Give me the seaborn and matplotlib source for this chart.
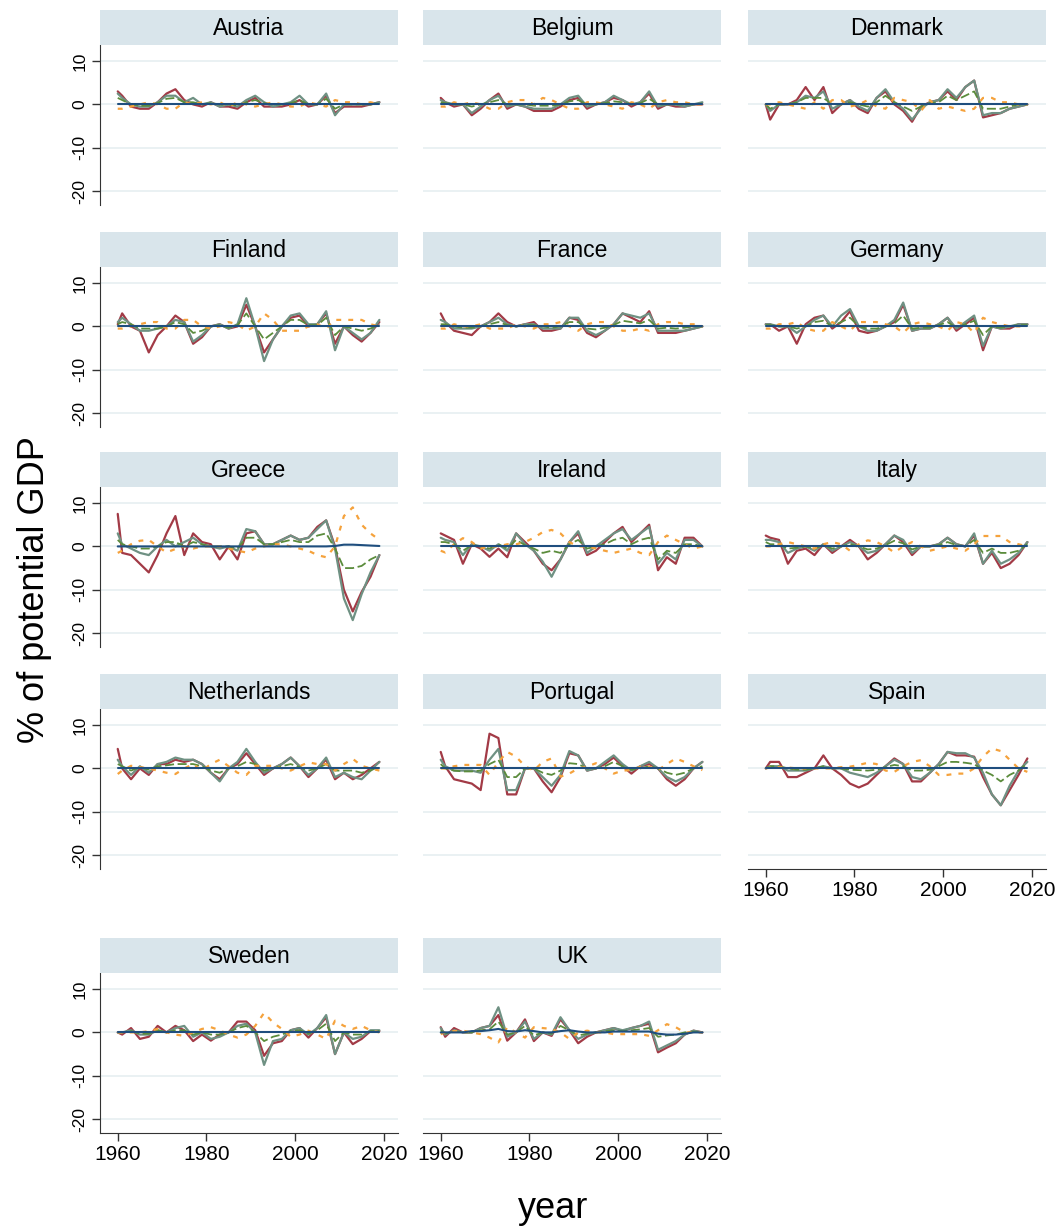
import matplotlib
matplotlib.use("Agg")
import matplotlib.pyplot as plt
import pandas as pd
import seaborn as sns

# 1960 plus every odd year up to 2019
years = [1960] + list(range(1961, 2020, 2))

navy_zero = [0, 0, 0, 0, 0, 0, 0, 0, 0, 0, 0, 0, 0, 0, 0, 0, 0, 0, 0, 0, 0, 0, 0, 0, 0, 0, 0, 0, 0, 0, 0]

austria_red = [3, 2, -0.5, -1, -1, 0.5, 2.5, 3.5, 1, 0, -0.5, 0.5, -0.5, -0.5, -1, 0.5, 1.5, -0.5, -0.5, -0.5, 0, 1, -0.5, 0, 2, -2, -0.5, -0.5, -0.5, 0, 0.5]
austria_gray = [2.5, 1.5, 0, -0.5, -0.5, 0.5, 2, 2, 0.5, 1.5, 0, 0.5, -0.5, 0, -0.5, 1, 2, 0.5, -0.5, 0, 0.5, 2, 0, 0, 2.5, -2.5, 0, 0, 0, 0, 0.5]
austria_dash = [1.5, 1, 0, -0.3, -0.3, 0.3, 1.3, 1.5, 0.5, 0.5, 0, 0.3, 0, 0, -0.3, 0.5, 1, 0.3, 0, 0, 0.3, 1, 0, 0, 1.3, -1, 0, 0, 0, 0, 0.3]
austria_dot = [-1, -1, -0.5, 0, 0.5, 0, -1, -1, 0.5, 0, 0.5, 0, 0.5, -0.5, 0.5, 0, -0.5, 0, 0.5, 0, -0.5, -0.5, 0.5, 0, -0.5, 1, 0.5, 0.5, 0, 0.5, 0]

belgium_red = [1.5, 0.5, -0.5, 0, -2.5, -1, 1, 2.5, -1, 0, -0.5, -1.5, -1.5, -1.5, -0.5, 1, 1.5, -1, 0, 0.5, 1.5, 1, -0.5, 0.5, 2.5, -1, 0, -0.5, -0.5, 0, 0]
belgium_gray = [1, 0.5, 0, 0, -2, -0.5, 1, 2, -0.5, 0, -0.5, -1, -1, -1, 0, 1.5, 2, -0.5, 0, 0.5, 2, 1, 0, 0.5, 3, -0.5, 0, 0, -0.5, 0, 0.5]
belgium_dash = [0.5, 0.3, 0, 0, -0.5, 0, 0.5, 1, 0, 0, 0, -0.3, -0.3, -0.3, 0, 0.7, 1, 0, 0, 0.3, 0.7, 0.5, 0, 0.3, 1.3, 0, 0, 0, 0, 0, 0.2]
belgium_dot = [-0.5, -0.5, 0.5, 0, 0.5, 0, -1, -1, 0.5, 1, 1, 0, 1.5, 1, 0, -1, -1, 0.5, 0.5, 0, -0.5, -1, 0.5, 0, -1, 0.5, 1, 0.5, 0.5, 0, 0]

denmark_red = [0, -3.5, 0, 0, 1, 4, 1, 4, -2, 0, 1, -1, -2, 1.5, 3, 0, -1.5, -4, -0.5, 0.5, 1, 3, 1, 4, 5.5, -3, -2.5, -2, -1, -0.5, 0]
denmark_gray = [0, -1.5, 0, 0, 0.5, 2, 1.5, 3, -1, 0, 1, -0.5, -1.5, 1.5, 3.5, 0.5, -1, -3.5, -1, 0.5, 1, 3.5, 1.5, 4, 5.5, -2.5, -2, -2, -1, -0.5, 0]
denmark_dash = [0, -1, 0, 0, 0.5, 1.5, 1.5, 1.5, 0, 0, 0.5, 0, -0.5, 0.5, 2, 0.5, -0.5, -1.5, -0.5, 0.3, 0.5, 2, 1, 2, 3, -1, -1, -1, -0.5, 0, 0]
denmark_dot = [0, 0, 0.5, 0, -0.5, -1, 0.5, -1, 1, 1, -0.5, 0, 1, -0.5, -1, 1.5, 1, 0.5, -1.5, 1, -1, -0.5, -1, -1.5, -1, 1.5, 1.5, 0.5, 0.5, 0, 0]

finland_red = [0.5, 3, 0, -1, -6, -2, 0, 2.5, 1, -4, -2.5, 0, 0.5, -0.5, 0, 5, 0, -6, -3, 0, 2, 2.5, 0, 0.5, 3, -4, 0, -2, -3.5, -1.5, 1]
finland_gray = [1, 2, 0.5, -1, -1, -0.5, 0, 1.5, 1, -3.5, -2, 0, 0.5, -0.5, 0.5, 6.5, 0, -8, -3, 0, 2.5, 3, 0.5, 0.5, 3.5, -5.5, 0, -1.5, -3, -1.5, 1.5]
finland_dash = [0.5, 1, 0.5, -0.5, -0.5, -0.5, 0, 1, 0.5, -1.5, -1, 0, 0.3, -0.3, 0.3, 3, 0, -3, -1.5, 0, 1.5, 1.5, 0.3, 0.3, 2, -2, 0, -0.5, -1, -0.5, 0.5]
finland_dot = [-0.5, -0.5, 0, 0.5, 1, 1, -0.5, -0.5, 1.5, 1.5, 0, -0.5, 0, 1, 0.5, -1, 0, 3, 1.5, -1, -1, -1, 0, 0.5, -0.5, 1.5, 1.5, 1.5, 1.5, 0.5, 0]

france_red = [3, 1, -1, -1.5, -2, 0, 1, 3, 1, 0, 0.5, 1, -1, -1, -0.5, 2, 1.5, -1.5, -2.5, -1, 0.5, 3, 2, 1, 3.5, -1.5, -1.5, -1.5, -1, -0.5, 0]
france_gray = [1.5, 1, -0.5, -0.5, -0.5, 0, 1, 2, 0.5, 0, 0.5, 0.5, -0.5, -0.5, -0.5, 2, 2, -1, -2, -1, 0.5, 3, 2.5, 2, 3, -1, -1, -1, -1, -0.5, 0]
france_dash = [0.5, 0.5, 0, -0.3, -0.3, 0, 0.5, 1, 0.3, 0, 0.3, 0.3, 0, -0.3, 0, 1, 1, -0.5, -0.7, -0.3, 0.3, 1.3, 1, 0.7, 1.5, -0.5, -0.3, -0.5, -0.3, 0, 0]
france_dot = [-0.5, -0.5, 0.5, 0, 0, 0.5, -0.5, -0.5, -0.5, 0.5, 0, -0.5, 0.5, 0.5, 1, 0, -1, 0.5, 1, 1, 0, -1, -1, -0.5, -1, 0.5, 1, 1, 0.5, 0.5, 0]

germany_red = [0.5, 0.5, -1, 0, -4, 0.5, 2, 2.5, -0.5, 1, 3.5, -1, -1.5, -1, 0, 1, 5, -1, -0.5, -0.5, 0.5, 2, -1, 0.5, 2, -5.5, 0, -0.5, -0.5, 0.5, 0.5]
germany_gray = [0.5, 0.5, 0, 0, -1.5, 0, 1.5, 2.5, 0, 2.5, 4, 0, -1, -1, 0, 1.5, 5.5, -1, -0.5, -0.5, 0.5, 2, -0.5, 1, 2.5, -4.5, 0, -0.5, 0, 0.5, 0.5]
germany_dash = [0.3, 0.3, 0, 0, -0.5, 0, 1, 1.3, 0, 1, 2, 0, -0.5, -0.5, 0, 0.7, 2.5, -0.5, -0.3, -0.3, 0.3, 1, -0.3, 0.5, 1.3, -2, 0, -0.3, 0, 0.3, 0.3]
germany_dot = [-0.5, -0.5, 0.5, 0.5, 1, -0.5, -1, -1, 1, 0, -1, 1, 1, 1, 0.5, 0, -1.5, 0.5, 1, 0.5, 0, -1, 1, 0.5, -1.5, 2, 1, 0.5, 0, 0, 0]

greece_red = [7.5, -1.5, -2, -4, -6, -2, 3, 7, -2, 3, 1, 0.5, -3, 0, -3, 3, 3.5, 0.5, 0.5, 1.5, 2.5, 1.5, 2, 4.5, 6, 0, -10, -15, -10.5, -7, -2]
greece_gray = [3, 0.5, -0.5, -1.5, -2, 0, 1.5, 0, 1, 2, 0.5, 0, -0.5, 0, -1, 4, 3.5, 0.5, 0.5, 1.5, 2.5, 1.5, 2, 4, 6, -0.5, -12, -17, -11, -6, -2]
greece_dash = [1.5, 0.5, 0, -0.5, -0.5, 0, 1, 1, 0, 1, 0.5, 0, 0, 0, -0.5, 2, 2, 0.5, 0.5, 1, 1.5, 1, 1, 2.5, 3, -0.5, -5, -5, -4.5, -3, -2]
greece_dot = [-1.5, -1, 0.5, 1.3, 1.5, 0, -1.4, -0.6, 0, -0.5, 0, 0, 0, -0.5, -1, -1.4, -0.5, 0, 0.5, 0.5, 0, -0.5, -1, -2, -2.5, 0, 7, 9, 5, 3, 1.5]
greece_navy = [0, 0, 0, 0, 0, 0, 0, 0, 0, 0, 0, 0, 0, 0, 0, 0, 0, 0, 0, 0, 0, 0, 0, 0, 0, 0.1, 0.4, 0.4, 0.3, 0.2, 0.1]

ireland_red = [3, 2.5, 1.5, -4, 0.5, -0.5, -2.4, -0.5, -2.5, 3, 1, -1, -4, -5.5, -3, 1, 3, -2, -1, 1, 3, 4.5, 1, 3, 5, -5.5, -2.5, -4, 2, 2, 0]
ireland_gray = [2, 1.5, 1, -2, 0.5, 0, -1, 0.5, -1, 3, 0.5, -1, -3.5, -7, -3, 1, 3.5, -1.5, 0, 1.5, 3, 4, 1.5, 3, 4.5, -4, -1.5, -3, 1.5, 1.5, 0]
ireland_dash = [1, 1, 0.5, -1, 0.3, 0, -0.5, 0.5, -0.5, 1.5, 0.3, -0.5, -1.5, -1, -1.5, 0.5, 1.5, -0.5, 0, 0.5, 1.5, 2, 0.5, 1.5, 2, -3, -1, -1.5, 0.5, 0.5, 0]
ireland_dot = [-1, -1.4, 0.5, 1.9, 1, -0.5, 0, 0, 0.5, 0.5, 1, 2, 3.3, 3.8, 3, 1, 0, 0, -0.5, -1, -1.5, -1, -0.5, -1.5, -2, 1, 2.5, 1.5, 0.5, -0.5, 0]

italy_red = [2.5, 2, 1.5, -4, -1, -0.5, -2, 0.5, -1.5, 0, 1.5, 0, -3, -1.5, 0.5, 2.5, 1, -2, 0, 0, 0.5, 2, 0.5, 0, 2.5, -4, -1.5, -5, -4, -2, 1]
italy_gray = [1.5, 1.5, 1, -1.5, -0.5, 0, -1, 0.5, -1, 0, 1, 0, -1.5, -1, 0.5, 2.5, 1.5, -1.5, 0, 0, 0.5, 2, 0.5, 0, 3, -4, -1, -4, -3, -1.5, 1]
italy_dash = [1, 0.5, 0.5, -0.5, -0.3, 0, -0.5, 0.3, -0.5, 0, 0.5, 0, -0.7, -0.5, 0.3, 1.3, 0.7, -0.7, 0, 0, 0.3, 1, 0.3, 0, 1.5, -1.5, -0.5, -1.5, -1.5, -1, 0.5]
italy_dot = [0, 0, 0.5, 1, 0.5, 0, -0.5, 0.5, 1, 0.5, -1, 0.5, 1.4, 1, 0, -1.4, 0, 1, 0, -1, -0.5, 0, -0.5, -1, 0.5, 2.4, 2.4, 2.4, 1, 0.5, 0]

netherlands_red = [4.5, 0, -2.5, 0, -1.5, 1, 1, 2, 1.5, 2, 1, -1, -2.5, 0, 1, 3.5, 1, -1.5, 0, 1, 2.5, 0.5, -2, 0, 2, -2.5, -1, -2.5, -1.5, 0, 1.5]
netherlands_gray = [2, 0.5, -1.5, 0.5, -1, 1, 1.5, 2.5, 2, 2, 1, -1, -3, 0, 1.5, 4.5, 1.5, -1, 0, 1, 2.5, 0.5, -1.5, 0, 2.5, -2, -1, -2, -2.5, -0.5, 1.5]
netherlands_dash = [1, 0.5, -0.5, 0.3, -0.3, 0.5, 0.7, 1, 1, 1, 0.5, -0.5, -1, 0, 0.5, 1.5, 1, -0.5, 0, 0.5, 1, 0.3, -0.5, 0, 1, -0.5, -0.5, -0.5, -1, -0.5, 0.5]
netherlands_dot = [-1.3, -0.5, 0.6, 0.3, 0, -0.5, -1, -1.3, 0, 1, -0.5, 1, 2, 0.5, -1, -1.5, 0.6, 0.6, 0.6, 0, -0.5, 0.5, 1.4, 1, 1, -0.5, 1, 2.2, 0.6, 0, -0.5]

portugal_red = [3.8, 0.5, -2.5, -3, -3.5, -5, 8, 7, -6, -6, 0, 0, -3, -5.5, -2, 3.5, 3, -0.5, 0, 1, 2.5, 0.5, -1.2, 0.5, 1, 0, -2.5, -4, -2.5, 0, 1.5]
portugal_gray = [2, 0.5, -0.5, -0.5, -0.5, -1, 2, 4.5, -5, -5, 0, 0, -2, -4, -1.5, 4, 3, -0.5, 0, 1.5, 3, 1, -0.5, 0.5, 1.5, 0, -2, -3, -2, 0, 1.5]
portugal_dash = [1, 0, -0.5, -0.7, -0.7, -0.5, 1, 2, -2, -2, 0, 0, -1, -1.5, -0.5, 1.2, 1, 0, 0, 0.5, 1.5, 0.5, -0.3, 0, 0.5, 0, -1, -1.5, -1, 0, 0.5]
portugal_dot = [0, 0, 0.5, 0.8, 0.8, 0.8, -1.5, 1.5, 3.8, 2.7, 0.5, -0.5, 1.5, 2.3, -1.9, -1.2, 0, 0.4, 1.2, 0, -1.2, -0.5, -0.4, 0.4, 0.4, -0.4, 1, 2.3, 1.5, 0.5, -0.4]

spain_red = [0, 1.5, 1.5, -2, -2, -1, 0, 3, 0, -1.5, -3.5, -4.4, -3.5, -1.5, 0.5, 2.3, 1, -3, -3, -1, 1, 3.8, 3, 3, 2.7, -2, -6, -8.5, -5, -1.5, 2.3]
spain_gray = [0, 0.5, 0.5, -0.5, -0.5, -0.5, 0, 0.5, 0, 0, -1, -1.5, -2, -1, 0.5, 2, 1, -2, -2.5, -1, 1, 3.8, 3.5, 3.5, 2.5, -1, -6, -8.5, -4, -0.5, 1.5]
spain_dash = [0, 0.5, 0.5, 0, -0.3, -0.3, 0, 0.5, 0, 0, -0.3, -0.4, -0.5, -0.3, 0.3, 0.8, 0.5, -0.5, -0.5, -0.3, 0.5, 1.5, 1.5, 1.3, 1, -0.5, -1.5, -3, -1.5, -0.5, 1.2]
spain_dot = [0, 0.2, 0.3, 0.2, 0, 0, 0, 0, 0, 0.3, 0.4, 0.8, 1.3, 1, -0.5, -0.8, 0.5, 1.5, 1.9, 0.5, -1.5, -1.5, -1.2, -1.2, 0, 2.7, 4.6, 4, 2, 0, -0.8]

sweden_red = [0, -0.5, 1, -1.5, -1, 1.5, 0, 1.5, 0.5, -2, -0.5, -1.9, -0.5, 0, 2.5, 2.5, 0.5, -5.4, -2.5, -2, 0.5, 1, -1.2, 1, 3.5, -5, 0, -2.7, -1.5, 0.3, 0.3]
sweden_gray = [0, 0, 0.5, -0.5, -0.5, 0.5, 0, 1, 1.5, -1, 0, -1.5, -1, 0, 1.5, 2, 0, -7.5, -2, -1.5, 0.5, 1, -0.5, 1, 4, -5, 0, -1.5, -1, 0.5, 0.5]
sweden_dash = [0, 0, 0.3, -0.3, -0.3, 0.5, 0, 0.5, 0.5, -0.5, 0, -0.5, -0.5, 0, 1, 1.5, 0, -2, -1, -0.5, 0.3, 0.5, -0.3, 0.5, 2, -2, 0, -0.5, -0.5, 0.3, 0.3]
sweden_dot = [0, 0, 0, 0, 0.3, 0.8, 0, -0.5, -0.8, 0, 0.8, 1.2, 0.5, -0.5, -1.2, -0.5, 1.5, 4.5, 2.3, 0.8, -1, -0.5, 0.4, -0.5, -1.5, 2.7, 1.5, 0.8, 1.5, 0.5, 0]

uk_red = [1.2, -1, 1, 0, 0, 1, 1.5, 4, -1.9, 0, 3, -2, 0, -0.8, 3, 0.5, -2.5, -1, 0, 0.5, 1, 0.3, 1, 1.5, 2, -4.6, -3.5, -2.5, -0.5, 0.4, 0]
uk_gray = [1, -0.5, 0.5, 0, 0, 1, 1.5, 5.8, -1, 0, 2.5, -1.5, 0, -0.5, 3.5, 0.5, -1.5, -0.5, 0, 0.5, 1, 0.5, 1, 1.5, 2.5, -4, -3, -2, -0.5, 0.4, 0]
uk_dash = [0.5, -0.3, 0.3, 0, 0, 0.5, 0.7, 2.5, -0.5, 0, 1.5, -0.7, 0, -0.3, 1.5, 0.5, -0.7, -0.3, 0, 0.3, 0.5, 0.3, 0.5, 0.7, 1, -1, -0.7, -0.5, 0, 0.2, 0]
uk_dot = [-0.4, 0, 0.3, 0.4, 0, -0.4, -1.2, -2.3, 1.2, 0, -1.2, 1.2, 1, 0.8, 0, -1.5, 0, 0.4, 0, 0, -0.4, -0.4, -0.4, -0.4, -0.8, 0.5, 1.9, 1.2, 0, 0, 0]
uk_navy = [0, 0, 0, 0, 0.3, 0.3, 0.5, 0.8, 0.3, 0.2, 0.5, 0.3, 0, 0, 0.3, 0.5, 0.2, 0, 0, 0, 0.2, 0.2, 0.2, 0.2, 0.2, -0.3, -0.5, -0.5, -0.3, 0, 0]

paneles = [
    ("Austria", austria_red, austria_gray, austria_dash, austria_dot, navy_zero),
    ("Belgium", belgium_red, belgium_gray, belgium_dash, belgium_dot, navy_zero),
    ("Denmark", denmark_red, denmark_gray, denmark_dash, denmark_dot, navy_zero),
    ("Finland", finland_red, finland_gray, finland_dash, finland_dot, navy_zero),
    ("France", france_red, france_gray, france_dash, france_dot, navy_zero),
    ("Germany", germany_red, germany_gray, germany_dash, germany_dot, navy_zero),
    ("Greece", greece_red, greece_gray, greece_dash, greece_dot, greece_navy),
    ("Ireland", ireland_red, ireland_gray, ireland_dash, ireland_dot, navy_zero),
    ("Italy", italy_red, italy_gray, italy_dash, italy_dot, navy_zero),
    ("Netherlands", netherlands_red, netherlands_gray, netherlands_dash, netherlands_dot, navy_zero),
    ("Portugal", portugal_red, portugal_gray, portugal_dash, portugal_dot, navy_zero),
    ("Spain", spain_red, spain_gray, spain_dash, spain_dot, navy_zero),
    ("Sweden", sweden_red, sweden_gray, sweden_dash, sweden_dot, navy_zero),
    ("UK", uk_red, uk_gray, uk_dash, uk_dot, uk_navy),
]

series = ["red", "gray", "dash", "dot", "navy"]
palette = {"red": "#a23a46", "gray": "#6f9183", "dash": "#5b8c3c", "dot": "#f5a23c", "navy": "#1f4e7e"}
dashes = {"red": "", "gray": "", "dash": (5, 2), "dot": (2.2, 3.2), "navy": ""}
sizes = {"red": 1.6, "gray": 1.6, "dash": 1.3, "dot": 1.6, "navy": 1.5}

sns.set_style("white")
plt.rcParams['font.family'] = ['Liberation Sans', 'DejaVu Sans']
plt.rcParams['axes.unicode_minus'] = False

W, H = 1061, 1228
fig = plt.figure(figsize=(W / 100, H / 100), dpi=100)

col_left = [100, 423, 748]
row_top = [45, 267, 487, 709, 973]
ancho, alto, alto_tira = 298, 160, 35
con_eje_x = {"Spain", "Sweden", "UK"}

for i, (pais, rojo, gris, guion, punto, azul) in enumerate(paneles):
    fila, col = i // 3, i % 3
    l, t = col_left[col], row_top[fila]
    ax = fig.add_axes([l / W, 1 - (t + alto) / H, ancho / W, alto / H])

    df = pd.DataFrame({
        "year": years * 5,
        "value": rojo + gris + guion + punto + azul,
        "series": [s for s in series for _ in years],
    })
    sns.lineplot(data=df, x="year", y="value", hue="series", style="series", size="series",
                 hue_order=series, style_order=series, size_order=series,
                 palette=palette, dashes=dashes, sizes=sizes,
                 estimator=None, legend=False, ax=ax)

    ax.set_xlim(1956, 2023.2)
    ax.set_ylim(-23.2, 13.7)
    ax.set_yticks([-20, -10, 0, 10])
    ax.set_xticks([1960, 1980, 2000, 2020])
    ax.yaxis.grid(True, color="#e6eff1", linewidth=1.2)
    ax.set_axisbelow(True)
    ax.set_xlabel("")
    ax.set_ylabel("")
    for s in ax.spines.values():
        s.set_visible(False)

    if col == 0:
        ax.spines["left"].set_visible(True)
        ax.spines["left"].set_color("#333333")
        ax.tick_params(axis="y", left=True, length=6, width=1, color="#333333",
                       labelsize=12.5, labelcolor="black", labelrotation=90, pad=3)
        for lab in ax.get_yticklabels():
            lab.set_va("center")
    else:
        ax.tick_params(axis="y", left=False, labelleft=False)

    if pais in con_eje_x:
        ax.spines["bottom"].set_visible(True)
        ax.spines["bottom"].set_color("#333333")
        ax.tick_params(axis="x", bottom=True, length=6, width=1, color="#333333",
                       labelsize=15, labelcolor="black", pad=3)
    else:
        ax.tick_params(axis="x", bottom=False, labelbottom=False)

    # franja del titulo
    tira = fig.add_axes([l / W, 1 - t / H, ancho / W, alto_tira / H])
    tira.set_facecolor("#d9e5eb")
    tira.set_xticks([])
    tira.set_yticks([])
    for s in tira.spines.values():
        s.set_visible(False)
    tira.text(0.5, 0.48, pais, ha="center", va="center", fontsize=16.5, color="black")

fig.text(35 / W, 1 - 590 / H, "% of potential GDP", rotation=90, ha="center", va="center",
         fontsize=26, color="black")
fig.text(553 / W, 1 - 1208 / H, "year", ha="center", va="center", fontsize=26, color="black")

fig.savefig("out.png", dpi=100)
